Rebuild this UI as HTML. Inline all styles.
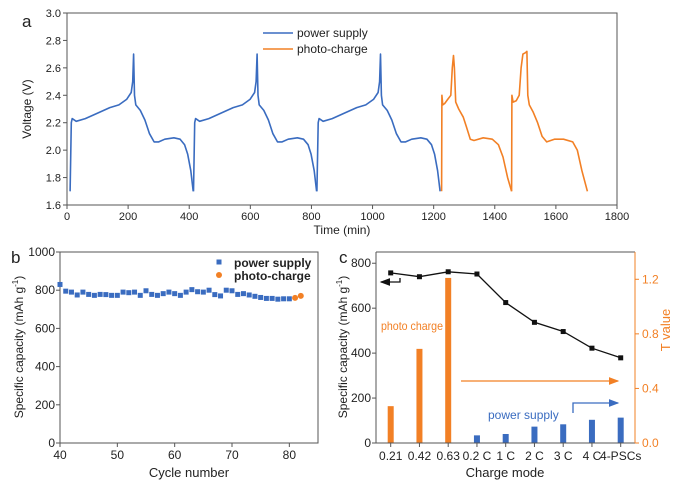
<!DOCTYPE html>
<html><head><meta charset="utf-8"><style>
body{margin:0;background:#fff}
svg text{font-family:"Liberation Sans",Arial,sans-serif;fill:#222}
</style></head><body>
<svg id="fig" width="679" height="487" viewBox="0 0 679 487" xmlns="http://www.w3.org/2000/svg">
<defs>
<marker id="ah-k" markerWidth="8" markerHeight="8" refX="7" refY="4" orient="auto"><path d="M0,1 L8,4 L0,7z" fill="#111"/></marker>
<marker id="ah-o" markerWidth="8" markerHeight="8" refX="7" refY="4" orient="auto"><path d="M0,1 L8,4 L0,7z" fill="#f28025"/></marker>
<marker id="ah-b" markerWidth="8" markerHeight="8" refX="7" refY="4" orient="auto"><path d="M0,1 L8,4 L0,7z" fill="#3a6cc0"/></marker>
</defs>
<g id="pa"></g>
<g id="pb"></g>
<g id="pc"></g>
</svg>
<script>
// ---------- Panel a data ----------
const cycleTimes = [0,4,7,20,50,90,130,160,185,200,205,208,211,215,230,245,260,275,290,310,340,360,375,385,395,403];
const cycleVolts = [1.7,2.2,2.23,2.21,2.23,2.27,2.31,2.33,2.37,2.42,2.5,2.7,2.4,2.33,2.29,2.22,2.12,2.06,2.06,2.08,2.09,2.08,2.04,1.97,1.85,1.7];
const blueStarts = [10,414,818];
const orange1Times = [1226,1227,1230,1236,1246,1256,1261,1265,1268,1272,1282,1297,1307,1320,1332,1362,1392,1412,1427,1442,1455];
const orange1Volts = [1.7,2.4,2.33,2.34,2.37,2.4,2.6,2.69,2.6,2.35,2.3,2.24,2.17,2.08,2.07,2.09,2.08,2.04,1.95,1.8,1.7];
const orange2Times = [1455,1456,1460,1470,1480,1486,1492,1500,1505,1508,1513,1525,1540,1555,1570,1595,1625,1655,1670,1685,1703];
const orange2Volts = [1.7,2.4,2.35,2.36,2.4,2.6,2.7,2.71,2.72,2.4,2.33,2.28,2.2,2.1,2.06,2.08,2.08,2.06,2.0,1.85,1.7];
const aXTicks = [0,200,400,600,800,1000,1200,1400,1600,1800];
const aYTicks = [1.6,1.8,2.0,2.2,2.4,2.6,2.8,3.0];
// ---------- Panel b data ----------
const bCycles = [40,41,42,43,44,45,46,47,48,49,50,51,52,53,54,55,56,57,58,59,60,61,62,63,64,65,66,67,68,69,70,71,72,73,74,75,76,77,78,79,80];
const bPower = [830,795,790,775,790,778,773,778,777,773,773,790,787,790,773,797,778,773,782,790,782,773,790,803,792,790,800,777,770,800,797,778,782,775,768,762,757,757,753,755,755];
const bPhotoCycles = [81,82];
const bPhoto = [760,770];
const bXTicks = [40,50,60,70,80];
const bYTicks = [0,200,400,600,800,1000];
// ---------- Panel c data ----------
const cCats = ["0.21","0.42","0.63","0.2 C","1 C","2 C","3 C","4 C","4-PSCs"];
const cCapacity = [757,740,762,752,625,537,496,422,379];
const cTValue = [0.27,0.69,1.21,0.056,0.066,0.12,0.137,0.17,0.186];
const cBarKind = ["photo","photo","photo","power","power","power","power","power","power"];
const cYTicks = [0,200,400,600,800];
const cTTicks = [0.0,0.4,0.8,1.2];

const NS="http://www.w3.org/2000/svg";
function mk(parent,tag,attrs,txt){const e=document.createElementNS(NS,tag);for(const k in attrs)e.setAttribute(k,attrs[k]);if(txt!==undefined)e.textContent=txt;parent.appendChild(e);return e;}
const BLUE="#3a6cc0",ORANGE="#f28025",AX="#555";

// ===== Panel A =====
(function(){
const g=document.getElementById('pa');
const L=67,R=617,T=13,B=205;
const x=t=>L+(t-0)/1800*(R-L), y=v=>B-(v-1.6)/1.4*(B-T);
let e=mk(g,'rect',{x:L,y:T,width:R-L,height:B-T,fill:'none',stroke:AX,'stroke-width':1});

aXTicks.forEach(t=>{mk(g,'line',{x1:x(t),x2:x(t),y1:B,y2:B+4,stroke:AX});
 e=mk(g,'text',{x:x(t),y:B+15,'font-size':11,'text-anchor':'middle'},t);
 });
aYTicks.forEach(v=>{mk(g,'line',{x1:L-4,x2:L,y1:y(v),y2:y(v),stroke:AX});
 e=mk(g,'text',{x:L-6,y:y(v)+4,'font-size':11,'text-anchor':'end'},v.toFixed(1));
 });
blueStarts.forEach(s=>{
 const d=cycleTimes.map((t,i)=>(i?'L':'M')+x(s+t).toFixed(1)+','+y(cycleVolts[i]).toFixed(1)).join('');
 e=mk(g,'path',{d:d,fill:'none',stroke:BLUE,'stroke-width':1.6,'stroke-linejoin':'round'});
 });
[[orange1Times,orange1Volts],[orange2Times,orange2Volts]].forEach(([ts,vs])=>{
 const d=ts.map((t,i)=>(i?'L':'M')+x(t).toFixed(1)+','+y(vs[i]).toFixed(1)).join('');
 e=mk(g,'path',{d:d,fill:'none',stroke:ORANGE,'stroke-width':1.6,'stroke-linejoin':'round'});
 });
mk(g,'line',{x1:263,x2:293,y1:33,y2:33,stroke:BLUE,'stroke-width':1.6});
e=mk(g,'text',{x:297,y:37,'font-size':12},'power supply');
mk(g,'line',{x1:263,x2:293,y1:49,y2:49,stroke:ORANGE,'stroke-width':1.6});
e=mk(g,'text',{x:297,y:53,'font-size':12},'photo-charge');
e=mk(g,'text',{x:342,y:234,'font-size':12,'text-anchor':'middle'},'Time (min)');
e=mk(g,'text',{x:0,y:0,'font-size':12,'text-anchor':'middle',transform:'translate(31,109) rotate(-90)'},'Voltage (V)');
e=mk(g,'text',{x:22,y:27,'font-size':17},'a');
})();

// ===== Panel B =====
(function(){
const g=document.getElementById('pb');
const L=60,R=318,T=252,B=443;
const x=c=>L+(c-40)/45*(R-L), y=v=>B-v/1000*(B-T);
let e=mk(g,'rect',{x:L,y:T,width:R-L,height:B-T,fill:'none',stroke:AX});

bXTicks.forEach(t=>{mk(g,'line',{x1:x(t),x2:x(t),y1:B,y2:B+4,stroke:AX});
 e=mk(g,'text',{x:x(t),y:B+16,'font-size':12,'text-anchor':'middle'},t);
 });
bYTicks.forEach(v=>{mk(g,'line',{x1:L-4,x2:L,y1:y(v),y2:y(v),stroke:AX});
 e=mk(g,'text',{x:L-5,y:y(v)+4,'font-size':12,'text-anchor':'end'},v);
 });
bCycles.forEach((c,i)=>{e=mk(g,'rect',{x:x(c)-2.5,y:y(bPower[i])-2.5,width:5,height:5,fill:BLUE});
 });
bPhotoCycles.forEach((c,i)=>{e=mk(g,'circle',{cx:x(c),cy:y(bPhoto[i]),r:3,fill:ORANGE});
 });
mk(g,'rect',{x:216.5,y:259.5,width:5,height:5,fill:BLUE});
e=mk(g,'text',{x:234,y:267,'font-size':12,'font-weight':'bold'},'power supply');
mk(g,'circle',{cx:219,cy:275,r:3,fill:ORANGE});
e=mk(g,'text',{x:234,y:280,'font-size':12,'font-weight':'bold'},'photo-charge');
e=mk(g,'text',{x:189,y:477,'font-size':13,'text-anchor':'middle'},'Cycle number');
e=mk(g,'text',{x:0,y:0,'font-size':12,'text-anchor':'middle',transform:'translate(23,347) rotate(-90)'});
e.innerHTML='Specific capacity (mAh g<tspan dy="-5" font-size="8">-1</tspan><tspan dy="5">)</tspan>';

e=mk(g,'text',{x:11,y:263,'font-size':17},'b');
})();

// ===== Panel C =====
(function(){
const g=document.getElementById('pc');
const L=376,R=635,T=252,B=443;
const x=i=>390.7+i*28.75, y=v=>B-v/850*(B-T), yt=v=>B-v/1.4*(B-T);
let e;
cCats.forEach((c,i)=>{
 const k=cBarKind[i];
 e=mk(g,'rect',{x:x(i)-3,y:yt(cTValue[i]),width:6,height:B-yt(cTValue[i]),fill:k==='photo'?ORANGE:BLUE});
 
 mk(g,'line',{x1:x(i),x2:x(i),y1:B,y2:B+4,stroke:AX});
 e=mk(g,'text',{x:x(i),y:B+17,'font-size':12,'text-anchor':'middle'},c);
 });
mk(g,'path',{d:'M'+L+','+T+'H'+R+'M'+L+','+T+'V'+B+'H'+R,fill:'none',stroke:AX});
mk(g,'line',{x1:R,x2:R,y1:T,y2:B,stroke:ORANGE});
cYTicks.forEach(v=>{mk(g,'line',{x1:L-4,x2:L,y1:y(v),y2:y(v),stroke:AX});
 e=mk(g,'text',{x:L-5,y:y(v)+4,'font-size':12,'text-anchor':'end'},v);
 });
cTTicks.forEach(v=>{mk(g,'line',{x1:R,x2:R+4,y1:yt(v),y2:yt(v),stroke:ORANGE});
 e=mk(g,'text',{x:R+7,y:yt(v)+4,'font-size':12,style:'fill:'+ORANGE},v.toFixed(1));
 });
const d=cCapacity.map((v,i)=>(i?'L':'M')+x(i)+','+y(v).toFixed(1)).join('');
e=mk(g,'path',{d:d,fill:'none',stroke:'#111','stroke-width':1.3});
cCapacity.forEach((v,i)=>{e=mk(g,'rect',{x:x(i)-2.5,y:y(v)-2.5,width:5,height:5,fill:'#111'});
 });
mk(g,'path',{d:'M400,278V282H381',fill:'none',stroke:'#111','stroke-width':1.3,'marker-end':'url(#ah-k)'});
mk(g,'line',{x1:461,y1:381,x2:618,y2:381,stroke:ORANGE,'stroke-width':1.3,'marker-end':'url(#ah-o)'});
mk(g,'path',{d:'M573,413V403H618',fill:'none',stroke:BLUE,'stroke-width':1.3,'marker-end':'url(#ah-b)'});
e=mk(g,'text',{x:381,y:330,'font-size':12,textLength:62,lengthAdjust:'spacingAndGlyphs',style:'fill:'+ORANGE},'photo charge');
e=mk(g,'text',{x:488,y:419,'font-size':12,style:'fill:'+BLUE},'power supply');
e=mk(g,'text',{x:505,y:477,'font-size':13,'text-anchor':'middle'},'Charge mode');
e=mk(g,'text',{x:0,y:0,'font-size':12,'text-anchor':'middle',transform:'translate(347,347) rotate(-90)'});
e.innerHTML='Specific capacity (mAh g<tspan dy="-5" font-size="8">-1</tspan><tspan dy="5">)</tspan>';

e=mk(g,'text',{x:0,y:0,'font-size':13,'text-anchor':'middle',style:'fill:'+ORANGE,transform:'translate(670,330) rotate(-90)'},'T value');

e=mk(g,'text',{x:339,y:263,'font-size':17},'c');
})();
</script>
</body></html>
